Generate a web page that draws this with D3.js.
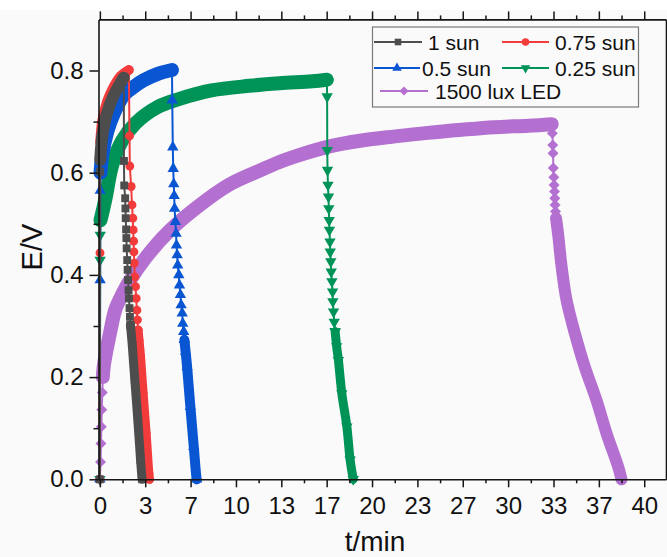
<!DOCTYPE html>
<html><head><meta charset="utf-8">
<script src="https://cdn.jsdelivr.net/npm/d3@7"></script>
<style>html,body{margin:0;padding:0;background:#fafafa;} svg{display:block;}</style>
</head><body>
<svg id="c" width="667" height="557"></svg>
<script>
// ---------------- data ----------------
const xTickValues = [0, 10/3, 20/3, 10, 40/3, 50/3, 20, 70/3, 80/3, 30, 100/3, 110/3, 40];
const xTickLabels = ["0","3","7","10","13","17","20","23","27","30","33","37","40"];
const xMinorValues = [5/3, 5, 25/3, 35/3, 15, 55/3, 65/3, 25, 85/3, 95/3, 35, 115/3];
const yTickValues = [0, 0.2, 0.4, 0.6, 0.8];
const yTickLabels = ["0.0","0.2","0.4","0.6","0.8"];
const yMinorValues = [0.1, 0.3, 0.5, 0.7];
const seriesNames = ["1 sun", "0.75 sun", "0.5 sun", "0.25 sun", "1500 lux LED"];

// [t (min), E (V)] ; phases: rise (sparse), charge (dense), drop (sparse), decay (dense)
const sun1Rise   = [[0,0],[0.02,0.602]];
const sun1Charge = [[0.03,0.625],[0.18,0.672],[0.54,0.718],[1.03,0.752],[1.52,0.776],[1.76,0.786]];
const sun1Drop   = [[1.77,0.623],[1.79,0.575],[1.86,0.550],[1.88,0.530],[1.90,0.511],[1.93,0.489],[1.95,0.472],[1.97,0.452],[2.01,0.429],[2.04,0.410],[2.07,0.390],[2.11,0.370],[2.14,0.354],[2.18,0.335],[2.21,0.318],[2.25,0.302]];
const sun1Decay  = [[2.25,0.302],[2.30,0.287],[2.38,0.263],[2.57,0.194],[2.79,0.116],[2.99,0.038],[3.10,0.0]];

const sun075Rise   = [[0,0],[0.01,0.443],[0.02,0.628]];
const sun075Charge = [[0.03,0.66],[0.18,0.702],[0.54,0.740],[1.03,0.769],[1.52,0.789],[2.13,0.801]];
const sun075Drop   = [[2.18,0.672],[2.20,0.613],[2.30,0.573],[2.36,0.537],[2.42,0.511],[2.45,0.488],[2.48,0.466],[2.50,0.445],[2.53,0.423],[2.57,0.396],[2.62,0.377],[2.67,0.354],[2.72,0.331],[2.76,0.312],[2.81,0.292]];
const sun075Decay  = [[2.81,0.292],[2.88,0.272],[2.99,0.240],[3.18,0.168],[3.40,0.090],[3.60,0.012],[3.65,0.0]];

const sun05Rise   = [[0,0],[0.02,0.39],[0.03,0.565]];
const sun05Charge = [[0.05,0.60],[0.18,0.635],[0.54,0.680],[1.03,0.716],[1.76,0.752],[2.49,0.768],[3.23,0.781],[4.21,0.793],[5.30,0.801]];
const sun05Drop   = [[5.32,0.742],[5.36,0.650],[5.39,0.608],[5.43,0.578],[5.46,0.555],[5.49,0.530],[5.55,0.504],[5.60,0.481],[5.63,0.458],[5.68,0.439],[5.72,0.419],[5.80,0.400],[5.85,0.380],[5.92,0.361],[5.97,0.341],[6.05,0.325],[6.09,0.305],[6.16,0.289],[6.21,0.273]];
const sun05Decay  = [[6.21,0.273],[6.30,0.250],[6.41,0.220],[6.65,0.142],[6.90,0.064],[7.09,0.005],[7.12,0.0]];

const sun025Rise   = [[0,0],[0.02,0.429],[0.03,0.478]];
const sun025Charge = [[0.05,0.507],[0.42,0.550],[0.91,0.615],[1.64,0.663],[2.62,0.697],[4.2,0.728],[5.8,0.744],[8.2,0.761],[11.0,0.770],[13.2,0.775],[15.6,0.779],[16.68,0.782]];
const sun025Drop   = [[16.70,0.749],[16.71,0.644],[16.73,0.605],[16.76,0.576],[16.80,0.553],[16.82,0.530],[16.85,0.507],[16.87,0.488],[16.91,0.465],[16.93,0.445],[16.97,0.426],[17.00,0.406],[17.05,0.387],[17.10,0.367],[17.12,0.348],[17.17,0.328],[17.22,0.308],[17.29,0.289]];
const sun025Decay  = [[17.29,0.289],[17.40,0.260],[17.53,0.233],[17.78,0.168],[18.15,0.103],[18.39,0.038],[18.62,0.0]];

const ledRise   = [[0,0],[0.05,0.034],[0.08,0.070],[0.11,0.103],[0.14,0.136],[0.18,0.170]];
const ledCharge = [[0.22,0.20],[0.29,0.222],[0.79,0.292],[1.15,0.333],[1.76,0.368],[2.13,0.386],[3.35,0.433],[5.06,0.485],[7.02,0.530],[9.46,0.576],[11.9,0.606],[13.2,0.621],[14.36,0.632],[16.8,0.651],[19.25,0.663],[21.7,0.671],[24.1,0.678],[26.6,0.684],[29.0,0.689],[31.5,0.692],[33.2,0.695]];
const ledDrop   = [[33.25,0.677],[33.28,0.654],[33.30,0.638],[33.32,0.609],[33.36,0.591],[33.38,0.576],[33.41,0.563],[33.43,0.550],[33.45,0.537],[33.48,0.524],[33.52,0.511]];
const ledDecay  = [[33.52,0.511],[33.60,0.495],[33.68,0.478],[33.93,0.416],[34.29,0.351],[34.90,0.286],[35.63,0.220],[36.49,0.155],[37.23,0.090],[38.08,0.025],[38.33,0.0]];

// ---------------- styles ----------------
const diamond = { draw(ctx, size){ const r = Math.sqrt(size/2); ctx.moveTo(0,-r); ctx.lineTo(r,0); ctx.lineTo(0,r); ctx.lineTo(-r,0); ctx.closePath(); } };
const triDown = { draw(ctx, size){ const s = Math.sqrt(size*4/Math.sqrt(3)); const h = s*Math.sqrt(3)/2; ctx.moveTo(-s/2,-h/3); ctx.lineTo(s/2,-h/3); ctx.lineTo(0,2*h/3); ctx.closePath(); } };
const triUp = { draw(ctx, size){ const s = Math.sqrt(size*4/Math.sqrt(3)); const h = s*Math.sqrt(3)/2; ctx.moveTo(-s/2,h/3); ctx.lineTo(s/2,h/3); ctx.lineTo(0,-2*h/3); ctx.closePath(); } };

const series = [
  {name: seriesNames[4], color:"#b470d0", sym: diamond,         size: 60, band: 14, bandOff: 12, rise: ledRise, charge: ledCharge, drop: ledDrop, decay: ledDecay},
  {name: seriesNames[3], color:"#009358", sym: triDown,         size: 56, band: 14, bandOff: 9,  rise: sun025Rise, charge: sun025Charge, drop: sun025Drop, decay: sun025Decay},
  {name: seriesNames[2], color:"#0a56d2", sym: triUp,           size: 56, band: 14, bandOff: 10, rise: sun05Rise, charge: sun05Charge, drop: sun05Drop, decay: sun05Decay},
  {name: seriesNames[1], color:"#f23c3c", sym: d3.symbolCircle, size: 62, band: 10, bandOff: 9,  rise: sun075Rise, charge: sun075Charge, drop: sun075Drop, decay: sun075Decay},
  {name: seriesNames[0], color:"#4d4d4d", sym: d3.symbolSquare, size: 62, band: 12, bandOff: 9,  rise: sun1Rise, charge: sun1Charge, drop: sun1Drop, decay: sun1Decay}
];

const svg = d3.select("#c");
const font = "'Liberation Sans', Arial, Helvetica, sans-serif";
svg.append("rect").attr("width",667).attr("height",557).attr("fill","#fafafa");
svg.append("rect").attr("width",667).attr("height",10).attr("fill","#ffffff");

const x = d3.scaleLinear().domain([-0.1, 41.6]).range([98.5, 666]);
const y = d3.scaleLinear().domain([0, 0.9]).range([479.3, 19.4]);

const lineLin = d3.line().x(d=>x(d[0])).y(d=>y(d[1]));
const lineSmooth = d3.line().x(d=>x(d[0])).y(d=>y(d[1])).curve(d3.curveCatmullRom.alpha(0.5));

const plot = svg.append("g");
series.forEach(s => {
  const g = plot.append("g");
  const all = [...s.rise, ...s.charge, ...s.drop, ...s.decay];
  [[s.charge, s.band], [s.decay, s.bandOff]].forEach(([part, w]) => {
    g.append("path").attr("d", lineSmooth(part)).attr("fill","none")
      .attr("stroke", s.color).attr("stroke-width", w)
      .attr("stroke-linecap","round").attr("stroke-linejoin","round");
  });
  g.append("path").attr("d", lineLin(all)).attr("fill","none")
    .attr("stroke", s.color).attr("stroke-width", 2).attr("stroke-linejoin","round");
  const sym = d3.symbol().type(s.sym).size(s.size);
  g.selectAll("path.m").data(all).join("path").attr("class","m")
    .attr("d", sym).attr("fill", s.color)
    .attr("transform", d => `translate(${x(d[0])},${y(d[1])})`);
});

// ---------------- axes ----------------
const axColor = "#151515";
function styleAxis(g){
  g.select(".domain").attr("stroke", axColor).attr("stroke-width", 1.6);
  g.selectAll(".tick line").attr("stroke", axColor).attr("stroke-width", 1.5);
  g.selectAll(".tick text").attr("fill","#111").attr("font-family", font).attr("font-size", 24);
}
const gb = svg.append("g").attr("transform","translate(0,479.3)")
  .call(d3.axisBottom(x).tickValues(xTickValues).tickFormat((d,i)=>xTickLabels[i]).tickSizeInner(8).tickSizeOuter(0).tickPadding(10));
styleAxis(gb);
const gbm = svg.append("g").attr("transform","translate(0,479.3)")
  .call(d3.axisBottom(x).tickValues(xMinorValues).tickFormat("").tickSizeInner(4).tickSizeOuter(0));
styleAxis(gbm); gbm.select(".domain").remove();

const gt = svg.append("g").attr("transform","translate(0,19.4)")
  .call(d3.axisTop(x).tickValues(xTickValues).tickFormat("").tickSizeInner(8).tickSizeOuter(0));
styleAxis(gt);
const gtm = svg.append("g").attr("transform","translate(0,19.4)")
  .call(d3.axisTop(x).tickValues(xMinorValues).tickFormat("").tickSizeInner(4).tickSizeOuter(0));
styleAxis(gtm); gtm.select(".domain").remove();

const gl = svg.append("g").attr("transform","translate(98.5,0)")
  .call(d3.axisLeft(y).tickValues(yTickValues).tickFormat((d,i)=>yTickLabels[i]).tickSizeInner(9).tickSizeOuter(0).tickPadding(6));
styleAxis(gl);
const glm = svg.append("g").attr("transform","translate(98.5,0)")
  .call(d3.axisLeft(y).tickValues(yMinorValues).tickFormat("").tickSizeInner(5).tickSizeOuter(0));
styleAxis(glm); glm.select(".domain").remove();

const gr = svg.append("g").attr("transform","translate(666,0)")
  .call(d3.axisRight(y).tickValues([]).tickSizeOuter(0));
styleAxis(gr);

// axis titles
svg.append("text").attr("x", 375).attr("y", 551).attr("text-anchor","middle")
  .attr("font-family", font).attr("font-size", 28).attr("fill","#111").text("t/min");
svg.append("text").attr("transform","translate(41.5,247) rotate(-90)").attr("text-anchor","middle")
  .attr("font-family", font).attr("font-size", 29).attr("fill","#111").text("E/V");

// ---------------- legend ----------------
const leg = svg.append("g");
leg.append("rect").attr("x",372.5).attr("y",27).attr("width",266).attr("height",80)
  .attr("fill","#fafafa").attr("stroke","#7a7a7a").attr("stroke-width",1.2);
const legItems = [
  {s: series[4], x1:374, x2:422, ty:42,  tx:428},
  {s: series[3], x1:502, x2:549, ty:42,  tx:555},
  {s: series[2], x1:374, x2:420, ty:68,  tx:422},
  {s: series[1], x1:502, x2:549, ty:68,  tx:555},
  {s: series[0], x1:380, x2:428, ty:91,  tx:435}
];
legItems.forEach(it => {
  leg.append("line").attr("x1",it.x1).attr("x2",it.x2).attr("y1",it.ty).attr("y2",it.ty)
    .attr("stroke", it.s.color).attr("stroke-width",2);
  leg.append("path").attr("d", d3.symbol().type(it.s.sym).size(it.s.size*0.7)())
    .attr("transform",`translate(${(it.x1+it.x2)/2},${it.ty})`).attr("fill", it.s.color);
  leg.append("text").attr("x", it.tx).attr("y", it.ty+7.5).attr("font-family", font)
    .attr("font-size", 21).attr("fill","#111").text(it.s.name);
});
</script>
</body></html>
